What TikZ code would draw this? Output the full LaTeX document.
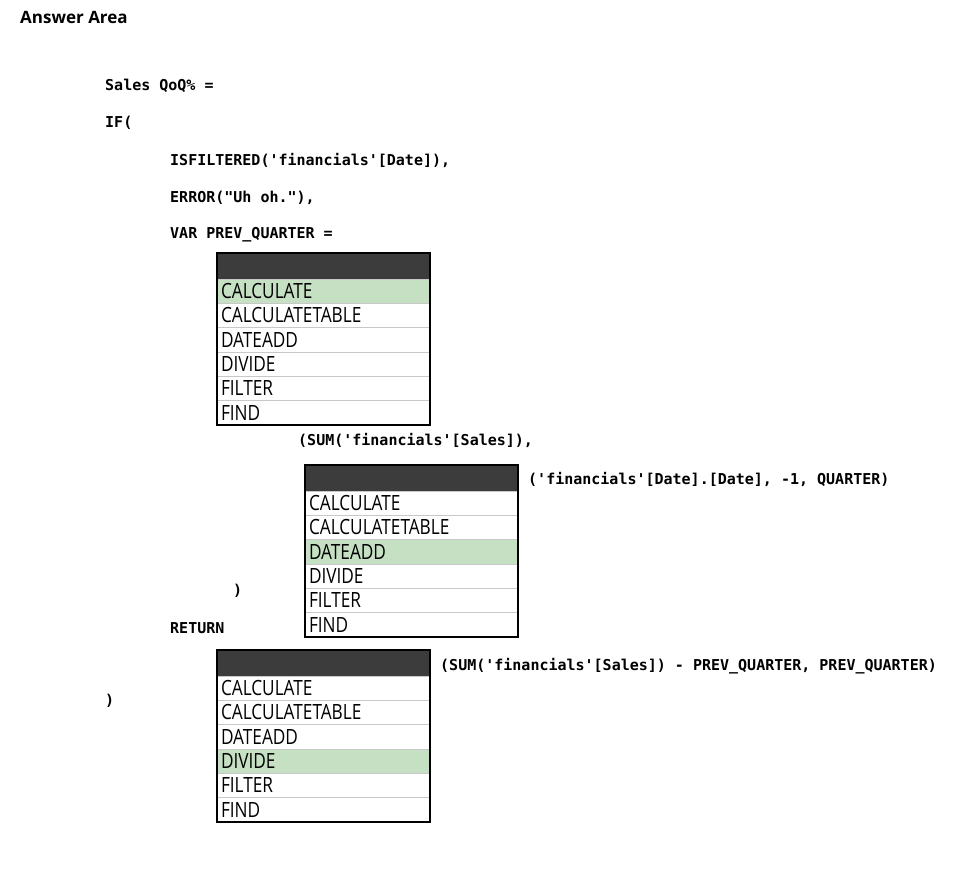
\documentclass[tikz,border=0pt]{standalone}
\usepackage{fontspec}
\setmainfont{Open Sans}
\newfontfamily\codefont{DejaVu Sans Mono}
\newfontfamily\listfont[FakeStretch=0.82]{Open Sans}
\usetikzlibrary{positioning}
\definecolor{hdrgray}{HTML}{3C3C3C}
\definecolor{pickgreen}{HTML}{C6E0C3}
\definecolor{rulegray}{HTML}{C8C8C8}
\tikzset{
  code/.style={anchor=base west, inner sep=0pt, font=\codefont\bfseries\fontsize{15}{18}\selectfont},
  hdr/.style={fill=hdrgray, minimum width=213pt, minimum height=26pt, inner sep=0pt, outer sep=0pt, anchor=north west},
  item/.style={draw=rulegray, line width=0.8pt, minimum width=213pt, text width=205pt, align=left,
    minimum height=24.3pt, inner sep=0pt, inner xsep=4pt, outer sep=0pt,
    font=\listfont\fontsize{21}{24}\selectfont},
  pick/.style={item, fill=pickgreen},
  frame/.style={draw=black, line width=2pt}
}
\begin{document}
\begin{tikzpicture}[x=1pt,y=-1pt]
   \useasboundingbox[fill=white] (0,0) rectangle (959,871);
   \node[anchor=base west, inner sep=0pt, font=\bfseries\fontsize{17}{20}\selectfont] (title) at (20,23) {Answer Area};

   % code lines
   \node[code] (l_sales) at (105,90)  {Sales QoQ\% =};
   \node[code] (l_if)    at (105,127) {IF(};
   \node[code] (l_isf)   at (170,165) {ISFILTERED('financials'[Date]),};
   \node[code] (l_err)   at (170,202) {ERROR("Uh oh."),};
   \node[code] (l_var)   at (170,238) {VAR PREV\_QUARTER =};

   % first drop-down
   \node[hdr] (a_0) at (217,253) {};
   \node[pick] (a_1) [below=0pt of a_0] {CALCULATE};
   \node[item] (a_2) [below=0pt of a_1] {CALCULATETABLE};
   \node[item] (a_3) [below=0pt of a_2] {DATEADD};
   \node[item] (a_4) [below=0pt of a_3] {DIVIDE};
   \node[item] (a_5) [below=0pt of a_4] {FILTER};
   \node[item] (a_6) [below=0pt of a_5] {FIND};
   \draw[frame] (a_0.north west) rectangle (a_6.south east);

   \node[code] (l_sum) at (298,445) {(SUM('financials'[Sales]),};

   % second drop-down
   \node[hdr] (b_0) at (305,465) {};
   \node[item] (b_1) [below=0pt of b_0] {CALCULATE};
   \node[item] (b_2) [below=0pt of b_1] {CALCULATETABLE};
   \node[pick] (b_3) [below=0pt of b_2] {DATEADD};
   \node[item] (b_4) [below=0pt of b_3] {DIVIDE};
   \node[item] (b_5) [below=0pt of b_4] {FILTER};
   \node[item] (b_6) [below=0pt of b_5] {FIND};
   \draw[frame] (b_0.north west) rectangle (b_6.south east);

   \node[code] (l_date) at (528,484) {('financials'[Date].[Date], -1, QUARTER)};
   \node[code] (l_close) at (233,595) {)};
   \node[code] (l_ret)   at (170,633) {RETURN};

   % third drop-down
   \node[hdr] (c_0) at (217,650) {};
   \node[item] (c_1) [below=0pt of c_0] {CALCULATE};
   \node[item] (c_2) [below=0pt of c_1] {CALCULATETABLE};
   \node[item] (c_3) [below=0pt of c_2] {DATEADD};
   \node[pick] (c_4) [below=0pt of c_3] {DIVIDE};
   \node[item] (c_5) [below=0pt of c_4] {FILTER};
   \node[item] (c_6) [below=0pt of c_5] {FIND};
   \draw[frame] (c_0.north west) rectangle (c_6.south east);

   \node[code] (l_div) at (440,670) {(SUM('financials'[Sales]) - PREV\_QUARTER, PREV\_QUARTER)};
   \node[code] (l_end) at (105,705) {)};
\end{tikzpicture}
\end{document}
